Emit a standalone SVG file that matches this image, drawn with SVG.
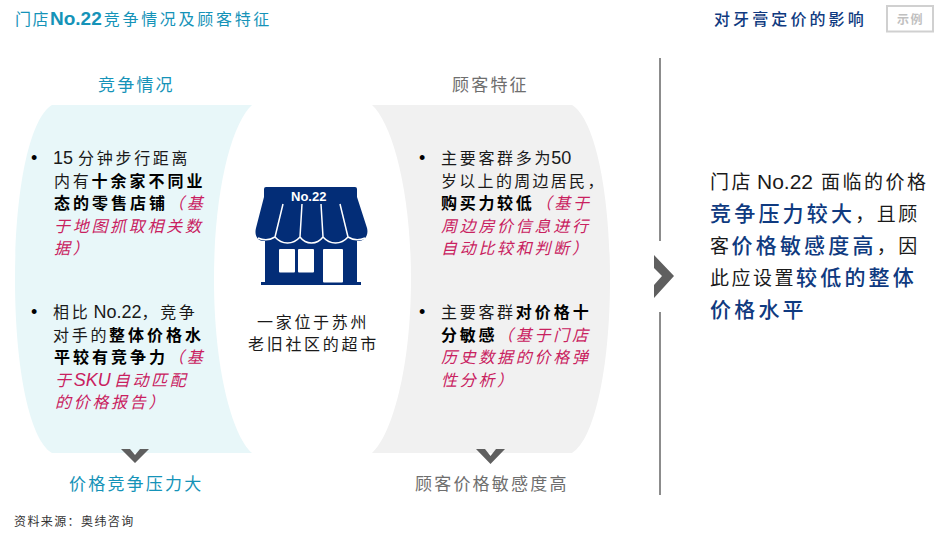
<svg xmlns="http://www.w3.org/2000/svg" width="939" height="535" viewBox="0 0 939 535">
<style>
text{font-family:"Liberation Sans","Noto Sans CJK SC",sans-serif;font-size:16px;letter-spacing:2.7px;fill:#1a1a1a}
.b{font-weight:bold;fill:#000;letter-spacing:3px}
.p{font-style:italic;fill:#c9215f}
.t{fill:#1593b8}
.g{fill:#6e6e6e}
.n{fill:#0f3a80}
.h{font-size:17px;letter-spacing:2.2px}
.r{font-size:19px;letter-spacing:2.5px}
.rb{font-size:21px;letter-spacing:3.2px;font-weight:500;fill:#0f3a80}
.num{letter-spacing:0;font-size:18px}
.dot{font-size:18px;letter-spacing:0;fill:#000}
.chev{fill:#5f5f5f}
</style>
<rect width="939" height="535" fill="#fff"/>
<g id="title">
<text x="15" y="25" class="t" style="letter-spacing:1.500px">门店<tspan font-weight="bold" font-size="19" letter-spacing="0">No.22</tspan><tspan dx="2" letter-spacing="2.700">竞争情况及顾客特征</tspan></text>
<text x="714" y="25" class="n" font-weight="500" style="letter-spacing:3.100px">对牙膏定价的影响</text>
</g>
<g id="stamp">
<rect x="887" y="6" width="46" height="25.500" fill="#fff" stroke="#d0d0d0" stroke-width="2"/>
<text x="897" y="24" style="font-size:12px;letter-spacing:1.500px;fill:#c0c0c0" font-weight="bold">示例</text>
</g>
<g id="competition">
<path d="M52 105H252C232 123 214 190 214 279C214 368 232 435 252 453H52C30 440 15 370 15 279C15 188 30 118 52 105Z" fill="#e8f7f9"/>
<text x="98" y="91" class="t h">竞争情况</text>
<text x="31" y="164" class="dot">•</text>
<text x="53" y="164"><tspan class="num">15</tspan><tspan dx="5">分钟步行距离</tspan></text>
<text x="54" y="187">内有<tspan class="b">十余家不同业</tspan></text>
<text x="54" y="209" class="b">态的零售店铺<tspan class="p" font-weight="normal" dx="0" letter-spacing="2.700">（基</tspan></text>
<text x="54" y="232" class="p">于地图抓取相关数</text>
<text x="54" y="254" class="p">据）</text>
<text x="31" y="318" class="dot">•</text>
<text x="53" y="318">相比<tspan class="num" dx="3">No.22</tspan>，竞争</text>
<text x="53" y="341">对手的<tspan class="b">整体价格水</tspan></text>
<text x="54" y="363" class="b">平较有竞争力<tspan class="p" font-weight="normal" dx="0" letter-spacing="2.700">（基</tspan></text>
<text x="55" y="386" class="p">于<tspan letter-spacing="0" font-size="18">SKU</tspan><tspan dx="3">自动匹配</tspan></text>
<text x="55" y="408" class="p">的价格报告）</text>
<path class="chev" d="M121 449H130L135 455L140 449H149L135 463Z"/>
<text x="69" y="490" class="t h">价格竞争压力大</text>
</g>
<g id="store">
<path d="M264 189Q264 187 266 187H355Q357 187 357 189V197L367 228C369 236 364 241 358 241H357V282H361V285H261V282H265V241H264C258 241 254 236 256 228L264 197Z" fill="#032d77"/>
<text x="291" y="201" style="font-size:13px;letter-spacing:0;fill:#fff" font-weight="bold">No.22</text>
<path d="M283 204L275 237M302 204L300 237M321 204L323 237M340 204L348 237M258 238Q267 242 275 237C282 245 293 245 300 237C306 245 317 245 323 237C330 245 341 245 348 237Q356 242 365 238" fill="none" stroke="#fff" stroke-width="1.500"/>
<rect x="279" y="249" width="16" height="23.500" fill="#fff" rx="1"/>
<rect x="298" y="249" width="16" height="23.500" fill="#fff" rx="1"/>
<rect x="323" y="249" width="20" height="33.500" fill="#fff" rx="1"/>
<text x="257" y="328">一家位于苏州</text>
<text x="248" y="350">老旧社区的超市</text>
</g>
<g id="customer">
<path d="M372 105H572C594 118 610 188 610 279C610 370 594 440 572 453H372C392 435 411 368 411 279C411 190 392 123 372 105Z" fill="#f1f1f1"/>
<text x="452" y="91" class="g h">顾客特征</text>
<text x="419" y="164" class="dot">•</text>
<text x="441" y="164">主要客群多为<tspan class="num" dx="-2">50</tspan></text>
<text x="441" y="187" style="letter-spacing:2.300px">岁以上的周边居民，</text>
<text x="441" y="209" class="b" style="letter-spacing:2.700px">购买力较低<tspan class="p" font-weight="normal" dx="1">（基于</tspan></text>
<text x="441" y="232" class="p">周边房价信息进行</text>
<text x="441" y="254" class="p">自动比较和判断）</text>
<text x="419" y="318" class="dot">•</text>
<text x="441" y="318">主要客群<tspan class="b">对价格十</tspan></text>
<text x="441" y="341" class="b" style="letter-spacing:2.700px">分敏感<tspan class="p" font-weight="normal" dx="0">（基于门店</tspan></text>
<text x="441" y="363" class="p">历史数据的价格弹</text>
<text x="441" y="386" class="p">性分析）</text>
<path class="chev" d="M476 449H485L490.500 456L496 449H505L490.500 464Z"/>
<text x="415" y="490" class="g h">顾客价格敏感度高</text>
</g>
<g id="connectors">
<path d="M660 58V241M660 312V495" fill="none" stroke="#8c8c8c" stroke-width="2"/>
<path class="chev" d="M654 255L674 276L654 298V285L662 276L654 268Z"/>
</g>
<g id="conclusion">
<text x="710" y="189" class="r">门店<tspan letter-spacing="0" font-size="21" dx="4">No.22</tspan><tspan dx="8">面临的价格</tspan></text>
<text x="710" y="221" class="r"><tspan class="rb">竞争压力较大</tspan>，且顾</text>
<text x="710" y="253" class="r">客<tspan class="rb">价格敏感度高</tspan>，因</text>
<text x="710" y="285" class="r">此应设置<tspan class="rb">较低的整体</tspan></text>
<text x="710" y="317" class="rb">价格水平</text>
</g>
<g id="source">
<text x="14" y="526" style="font-size:12px;letter-spacing:1.400px;fill:#333">资料来源：奥纬咨询</text>
</g>
</svg>
